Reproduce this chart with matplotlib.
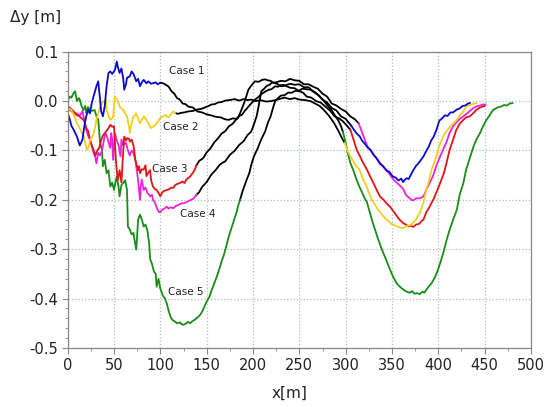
import numpy as np
import matplotlib.pyplot as plt
from matplotlib.ticker import MultipleLocator

# traced points (x [m], dy [m]) for each case; colour switches to black between the breaks
case1_pts = [(0, -0.025), (2, -0.035), (4, -0.05), (7, -0.06), (10, -0.072), (13, -0.09), (16, -0.078),
             (18, -0.05), (20, -0.031), (22, -0.018), (24, -0.025), (26, -0.004), (28, 0.01), (31, 0.03),
             (33, 0.04), (34, 0.02), (35, 0.003), (36, -0.02), (38, -0.031), (40, -0.01), (42, 0.03),
             (44, 0.057), (46, 0.06), (48, 0.055), (51, 0.063), (53, 0.08), (54, 0.07), (56, 0.057),
             (58, 0.066), (60, 0.045), (61, 0.023), (63, 0.035), (64, 0.047), (67, 0.05), (69, 0.06),
             (71, 0.055), (74, 0.04), (76, 0.045), (78, 0.03), (80, 0.038), (82, 0.043), (85, 0.036),
             (87, 0.04), (90, 0.035), (92, 0.036), (95, 0.038), (97, 0.034), (100, 0.037),
             (103, 0.036), (106, 0.033), (109, 0.029), (112, 0.02), (115, 0.015), (118, 0.006), (121, 0.003),
             (124, -0.005), (127, -0.006), (130, -0.011), (135, -0.013), (140, -0.021), (145, -0.023),
             (150, -0.027), (155, -0.029), (160, -0.032), (165, -0.033), (170, -0.037), (174, -0.038),
             (178, -0.035), (182, -0.036), (185, -0.03), (188, -0.028), (191, -0.02), (193, -0.016),
             (196, -0.009), (198, -0.005), (202, 0.003), (205, 0.007), (209, 0.014), (213, 0.019),
             (217, 0.023), (220, 0.024), (224, 0.03), (227, 0.029), (231, 0.033), (235, 0.032),
             (240, 0.035), (245, 0.033), (250, 0.034), (255, 0.028), (260, 0.028), (265, 0.019),
             (270, 0.013), (275, 0.003), (280, -0.003), (285, -0.014), (290, -0.019), (295, -0.031),
             (300, -0.036), (306, -0.05),
             (309, -0.058), (312, -0.066), (315, -0.071), (318, -0.081), (321, -0.087), (324, -0.095),
             (327, -0.099), (330, -0.109), (333, -0.115), (337, -0.127), (340, -0.131), (344, -0.141),
             (347, -0.143), (351, -0.153), (354, -0.155), (357, -0.161), (360, -0.157), (362, -0.164),
             (364, -0.159), (366, -0.156), (368, -0.158), (371, -0.147), (373, -0.14), (376, -0.131),
             (379, -0.125), (382, -0.117), (384, -0.112), (387, -0.101), (390, -0.091), (392, -0.081),
             (395, -0.072), (398, -0.058), (401, -0.04), (404, -0.035), (407, -0.029), (410, -0.03),
             (413, -0.023), (416, -0.023), (420, -0.017), (423, -0.015), (426, -0.01), (429, -0.009),
             (432, -0.005), (434, -0.004)]
case2_pts = [(0, -0.014), (2, -0.016), (4, -0.018), (7, -0.03), (10, -0.045), (13, -0.055), (15, -0.063),
             (17, -0.07), (19, -0.085), (21, -0.099), (23, -0.09), (24, -0.078), (26, -0.075), (28, -0.065),
             (30, -0.05), (31, -0.037), (33, -0.025), (35, -0.011), (37, -0.005), (38, 0.0), (40, -0.003),
             (41, 0.003), (42, -0.018), (44, -0.03), (46, -0.038), (48, -0.035), (49, -0.031), (50, -0.01),
             (51, 0.009), (52, 0.005), (53.5, 0.003), (55, -0.005), (56, -0.011), (58, -0.015), (60, -0.018),
             (62, -0.025), (64, -0.031), (66, -0.05), (67, -0.065), (69, -0.045), (71, -0.031), (73, -0.028),
             (74, -0.025), (76, -0.035), (78, -0.045), (80, -0.038), (82, -0.031), (84, -0.036), (85, -0.038),
             (87, -0.045), (90, -0.055), (92, -0.052), (94, -0.05), (96, -0.045), (98, -0.04), (100, -0.034),
             (103, -0.031), (106, -0.028), (108, -0.033), (110, -0.031), (112, -0.025), (114, -0.021),
             (116, -0.024),
             (119, -0.026), (122, -0.024), (126, -0.023), (130, -0.021), (135, -0.02), (140, -0.017),
             (144, -0.016), (148, -0.013), (152, -0.01), (155, -0.007), (159, -0.006), (162, -0.003),
             (166, -0.002), (170, 0.001), (175, 0.002), (180, 0.004), (185, 0.001), (190, 0.004), (194, 0.002),
             (198, 0.003), (203, 0.0), (208, 0.002), (214, -0.001), (220, 0.0), (226, 0.003), (230, 0.005),
             (234, 0.007), (240, 0.004), (245, 0.006), (250, 0.003), (256, 0.002), (262, 0.0), (267, -0.005),
             (272, -0.01), (277, -0.019), (282, -0.03), (287, -0.043), (292, -0.06), (296, -0.075),
             (299, -0.085),
             (302, -0.1), (305, -0.112), (308, -0.121), (311, -0.131), (315, -0.139), (318, -0.155),
             (322, -0.17), (325, -0.186), (329, -0.203), (332, -0.211), (336, -0.223), (341, -0.234),
             (345, -0.241), (350, -0.25), (355, -0.253), (358, -0.256), (362, -0.257), (365, -0.254),
             (368, -0.252), (371, -0.25), (373, -0.246), (376, -0.24), (378, -0.232), (380, -0.227),
             (384, -0.205), (387, -0.18), (390, -0.161), (393, -0.137), (398, -0.112), (401, -0.09),
             (405, -0.073), (409, -0.06), (413, -0.051), (416, -0.046), (420, -0.038), (424, -0.027),
             (427, -0.021), (430, -0.011), (434, -0.008), (438, -0.005), (441, -0.004)]
case3_pts = [(0, -0.01), (3, -0.015), (6, -0.02), (9, -0.028), (12, -0.03), (15, -0.035), (18, -0.04),
             (20, -0.055), (22, -0.06), (24, -0.078), (26, -0.09), (28, -0.1), (30, -0.11), (32, -0.1),
             (34, -0.095), (36, -0.08), (38, -0.07), (40, -0.065), (42, -0.06), (44, -0.055), (46, -0.048),
             (48, -0.052), (50, -0.051), (52, -0.12), (54, -0.16), (56, -0.14), (58, -0.165), (60, -0.1),
             (61, -0.072), (63, -0.08), (64, -0.075), (66, -0.076), (67, -0.082), (69, -0.078), (71, -0.09),
             (73, -0.119), (74, -0.126), (76, -0.14), (77, -0.132), (78, -0.146), (80, -0.138), (82, -0.139),
             (84, -0.13), (85, -0.152), (87, -0.145), (89, -0.14), (90, -0.16), (92, -0.173), (94, -0.178),
             (96, -0.18), (98, -0.186), (100, -0.193), (102, -0.185), (104, -0.182), (107, -0.18),
             (110, -0.178), (112, -0.175), (114, -0.176), (116, -0.17), (118, -0.168), (121, -0.166),
             (124, -0.163), (126, -0.166), (128, -0.159), (130, -0.156), (132, -0.153), (134, -0.148),
             (136, -0.143), (138, -0.135), (139, -0.13),
             (142, -0.121), (146, -0.116), (150, -0.104), (154, -0.096), (158, -0.084), (162, -0.076),
             (166, -0.066), (170, -0.061), (174, -0.051), (178, -0.046), (181, -0.039), (184, -0.034),
             (187, -0.02), (190, -0.006), (193, 0.011), (195, 0.023), (198, 0.031), (202, 0.04), (206, 0.039),
             (210, 0.043), (213, 0.044), (216, 0.042), (219, 0.041), (222, 0.037), (226, 0.035), (230, 0.03),
             (235, 0.031), (240, 0.027), (245, 0.026), (250, 0.02), (254, 0.017), (258, 0.009), (263, 0.007),
             (268, 0.0), (273, -0.003), (278, -0.011), (283, -0.019), (288, -0.031), (293, -0.035),
             (297, -0.041), (301, -0.049), (305, -0.058),
             (308, -0.075), (312, -0.099), (315, -0.11), (318, -0.122), (323, -0.139), (327, -0.155),
             (331, -0.17), (334, -0.182), (337, -0.193), (341, -0.2), (344, -0.207), (348, -0.214),
             (351, -0.222), (355, -0.232), (358, -0.24), (362, -0.247), (365, -0.25), (368, -0.254),
             (370, -0.252), (373, -0.255), (376, -0.25), (379, -0.249), (382, -0.243), (384, -0.24),
             (387, -0.225), (390, -0.216), (393, -0.205), (395, -0.198), (399, -0.18), (402, -0.166),
             (406, -0.146), (409, -0.124), (412, -0.1), (416, -0.078), (419, -0.06), (423, -0.046),
             (427, -0.038), (430, -0.033), (434, -0.031), (438, -0.024), (441, -0.018), (444, -0.014),
             (448, -0.011), (450, -0.01)]
case4_pts = [(0, -0.016), (2, -0.018), (5, -0.022), (8, -0.024), (10, -0.025), (13, -0.03), (16, -0.02),
             (18, -0.04), (20, -0.058), (22, -0.07), (24, -0.078), (26, -0.09), (28, -0.105), (30, -0.115),
             (31, -0.126), (33, -0.105), (35, -0.11), (37, -0.1), (38, -0.09), (40, -0.07), (41, -0.065),
             (43, -0.075), (44, -0.083), (46, -0.095), (47, -0.065), (48, -0.077), (49, -0.119), (51, -0.065),
             (53, -0.08), (55, -0.09), (57, -0.112), (58, -0.078), (60, -0.09), (62, -0.085), (63, -0.085),
             (65, -0.1), (67, -0.11), (69, -0.1), (71, -0.105), (73, -0.12), (74, -0.132), (76, -0.16),
             (78, -0.2), (79, -0.17), (80, -0.159), (82, -0.18), (84, -0.175), (86, -0.186), (88, -0.19),
             (89, -0.193), (91, -0.19), (92, -0.2), (94, -0.205), (96, -0.215), (98, -0.224), (100, -0.225),
             (102, -0.22), (104, -0.218), (107, -0.214), (109, -0.218), (111, -0.215), (114, -0.217),
             (117, -0.212), (120, -0.21), (123, -0.207), (125, -0.207), (128, -0.205), (130, -0.203),
             (133, -0.2), (136, -0.197), (139, -0.19),
             (142, -0.184), (145, -0.174), (150, -0.164), (155, -0.149), (160, -0.139), (164, -0.129),
             (167, -0.125), (170, -0.122), (175, -0.109), (180, -0.101), (185, -0.089), (190, -0.081),
             (194, -0.069), (198, -0.062), (201, -0.047), (204, -0.03), (206, -0.011), (209, 0.02),
             (212, 0.025), (215, 0.031), (218, 0.033), (220, 0.037), (225, 0.038), (230, 0.041), (235, 0.04),
             (240, 0.045), (245, 0.042), (250, 0.041), (255, 0.034), (260, 0.034), (265, 0.029), (270, 0.025),
             (275, 0.015), (280, 0.009), (285, -0.005), (290, -0.009), (295, -0.016), (300, -0.021),
             (305, -0.031), (310, -0.037), (314, -0.045),
             (317, -0.06), (320, -0.075), (323, -0.09), (326, -0.098), (329, -0.105), (333, -0.115),
             (337, -0.125), (340, -0.132), (344, -0.139), (348, -0.15), (351, -0.158), (355, -0.165),
             (358, -0.17), (362, -0.178), (365, -0.19), (368, -0.195), (371, -0.2), (373, -0.201),
             (376, -0.197), (380, -0.197), (384, -0.193), (387, -0.18), (390, -0.168), (394, -0.153),
             (398, -0.13), (402, -0.112), (405, -0.099), (409, -0.082), (412, -0.065), (416, -0.051),
             (420, -0.042), (424, -0.035), (427, -0.031), (431, -0.025), (434, -0.02), (438, -0.014),
             (441, -0.011), (445, -0.009), (448, -0.007), (451, -0.007)]
case5_pts = [(0, 0.0), (2, 0.009), (4, 0.007), (6, 0.015), (8, 0.02), (10, 0.0), (12, 0.006), (13, 0.003),
             (15, -0.01), (17, -0.018), (19, -0.01), (20, -0.024), (22, -0.012), (24, -0.018), (26, -0.02),
             (29, -0.018), (31, -0.03), (33, -0.038), (35, -0.085), (37, -0.099), (38, -0.132), (40, -0.119),
             (42, -0.146), (44, -0.14), (46, -0.173), (48, -0.165), (50, -0.18), (52, -0.16), (53, -0.153),
             (55, -0.175), (56, -0.193), (58, -0.17), (60, -0.166), (62, -0.16), (64, -0.18), (65, -0.254),
             (67, -0.26), (69, -0.27), (71, -0.267), (72, -0.28), (74, -0.301), (76, -0.24), (78, -0.23),
             (80, -0.24), (82, -0.254), (84, -0.25), (86, -0.262), (88, -0.29), (89, -0.32), (91, -0.33),
             (93, -0.345), (95, -0.35), (96, -0.376), (98, -0.36), (100, -0.38), (103, -0.395), (105, -0.4),
             (107, -0.41), (109, -0.425), (111, -0.437), (113, -0.443), (116, -0.447), (118, -0.45),
             (121, -0.448), (123, -0.452), (125, -0.453), (128, -0.45), (130, -0.447), (132, -0.45),
             (135, -0.445), (137, -0.443), (139, -0.44), (142, -0.435), (144, -0.43), (146, -0.423),
             (149, -0.41), (151, -0.403), (153, -0.396), (155, -0.385), (158, -0.37), (161, -0.355),
             (164, -0.338), (166, -0.325), (168, -0.315), (171, -0.295), (173, -0.28), (175, -0.267),
             (178, -0.25), (180, -0.238), (182, -0.227), (184, -0.212), (186, -0.2),
             (189, -0.181), (193, -0.16), (196, -0.146), (198, -0.13), (201, -0.112), (205, -0.096),
             (209, -0.077), (213, -0.062), (216, -0.044), (219, -0.031), (222, -0.011), (224, 0.0),
             (227, 0.006), (230, 0.011), (234, 0.012), (238, 0.017), (242, 0.017), (246, 0.021), (249, 0.02),
             (253, 0.025), (258, 0.024), (262, 0.023), (266, 0.019), (270, 0.013), (275, 0.004),
             (280, -0.008), (285, -0.019), (289, -0.031), (292, -0.039), (295, -0.051), (297, -0.062),
             (300, -0.085), (303, -0.11), (305, -0.125), (308, -0.139), (311, -0.155), (314, -0.17),
             (317, -0.182), (320, -0.195), (323, -0.205), (326, -0.225), (329, -0.245), (332, -0.262),
             (334, -0.274), (337, -0.29), (340, -0.305), (343, -0.318), (345, -0.328), (348, -0.342),
             (351, -0.355), (355, -0.369), (358, -0.375), (361, -0.38), (364, -0.384), (366, -0.386),
             (369, -0.388), (372, -0.385), (374, -0.39), (377, -0.389), (380, -0.391), (383, -0.386),
             (385, -0.388), (387, -0.382), (390, -0.375), (393, -0.368), (396, -0.358), (399, -0.345),
             (402, -0.328), (405, -0.31), (409, -0.281), (412, -0.262), (416, -0.24), (420, -0.22),
             (423, -0.19), (427, -0.166), (430, -0.139), (434, -0.115), (438, -0.092), (441, -0.078),
             (445, -0.065), (448, -0.052), (452, -0.038), (455, -0.03), (459, -0.018), (462, -0.015),
             (465, -0.012), (468, -0.011), (471, -0.008), (474, -0.009), (477, -0.005), (480, -0.004)]

cases = [case5_pts, case4_pts, case3_pts, case2_pts, case1_pts]
breaks = [(186, 297), (139, 314), (139, 305), (116, 299), (100, 306)]
colors = ['#1a8c1a', '#ee22dd', '#e01515', '#f0d020', '#0a0acc']
labels = ['Case 5', 'Case 4', 'Case 3', 'Case 2', 'Case 1']
label_pos = [(127, -0.386), (140, -0.228), (110, -0.137), (122, -0.052), (128, 0.06)]

xticks = [0, 50, 100, 150, 200, 250, 300, 350, 400, 450, 500]
yticks = [-0.5, -0.4, -0.3, -0.2, -0.1, 0.0, 0.1]
ytick_labels = ['-0.5', '-0.4', '-0.3', '-0.2', '-0.1', '0.0', '0.1']

fig = plt.figure(figsize=(5.53, 4.07), dpi=100)
ax = fig.add_axes([0.1224, 0.145, 0.8378, 0.728])

# black middle parts first, coloured ends on top
for pts, (b1, b2) in zip(cases, breaks):
    d = np.array(pts)
    x, y = d[:, 0], d[:, 1]
    m = (x >= b1) & (x <= b2)
    ax.plot(x[m], y[m], color='black', lw=1.3)

for pts, (b1, b2), c in zip(cases, breaks, colors):
    d = np.array(pts)
    x, y = d[:, 0], d[:, 1]
    ax.plot(x[x <= b1], y[x <= b1], color=c, lw=1.3)
    ax.plot(x[x >= b2], y[x >= b2], color=c, lw=1.3)

for lab, (lx, ly) in zip(labels, label_pos):
    ax.text(lx, ly, lab, fontsize=7.5, ha='center', va='center', color='#222222')

ax.set_xlim(0, 500)
ax.set_ylim(-0.5, 0.1)
ax.set_xticks(xticks)
ax.set_yticks(yticks)
ax.set_yticklabels(ytick_labels)
ax.xaxis.set_minor_locator(MultipleLocator(25))
ax.yaxis.set_minor_locator(MultipleLocator(0.02))
ax.tick_params(which='major', direction='out', length=4, color='#888888', labelsize=10.5,
               labelcolor='#222222', pad=3)
ax.tick_params(which='minor', direction='out', length=2.5, color='#888888')
ax.grid(True, which='major', color='#a8c4a8', linestyle=':', lw=0.9)
for s in ax.spines.values():
    s.set_color('#888888')
    s.set_linewidth(0.9)

fig.text(0.018, 0.956, 'Δy [m]', fontsize=11, color='#222222', va='center')
fig.text(0.523, 0.034, 'x[m]', fontsize=11, color='#222222', ha='center', va='center')

fig.savefig('out.png', dpi=100)
